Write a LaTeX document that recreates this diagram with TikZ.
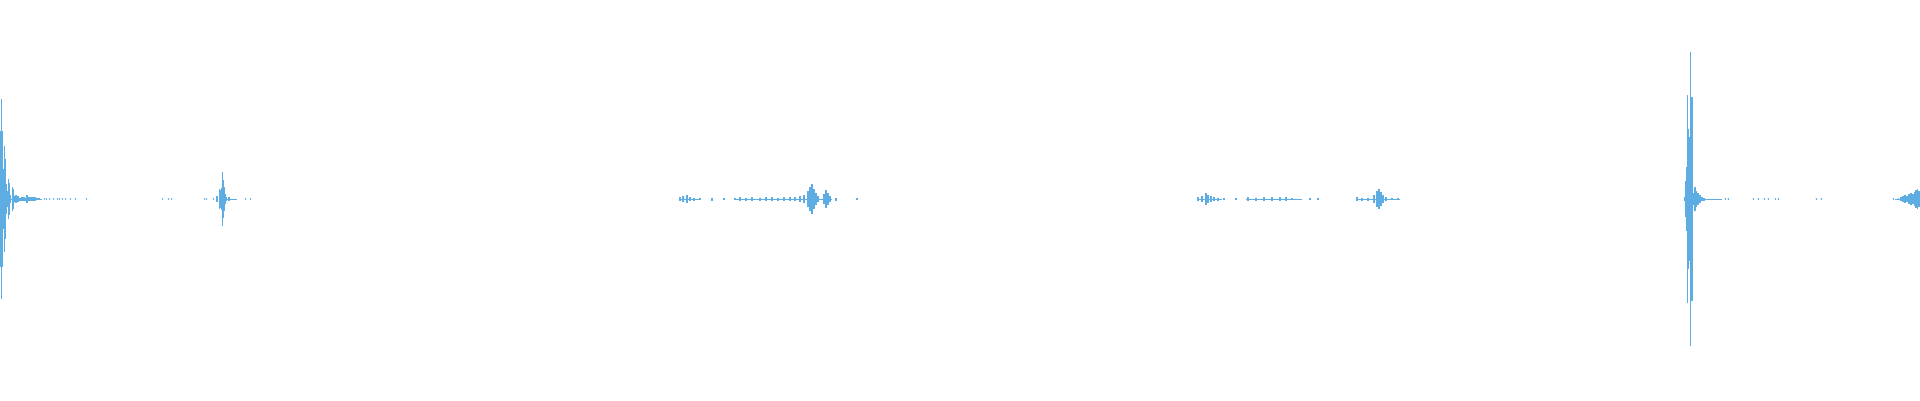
\documentclass[tikz,border=0pt]{standalone}
\definecolor{wave}{RGB}{93,173,226}
\begin{document}
\begin{tikzpicture}[x=1pt,y=-1pt,bar/.style={wave,line width=1.1pt}]
\useasboundingbox (0,0) rectangle (1920,400);
\def\c{199}
% burst 1
\foreach \x/\h in {0.6/68,1.6/100,2.6/68,3.6/30,4.6/53,5.6/40,6.6/15,7.6/8,8.6/20,9.6/16,10.6/4,12.6/12,13.6/10,15/3,16/4,17/2,18/3,20/1.5,22/2,24/2,26/1.5,27/4,28/2,30/2,32/2,34/2,35/2,37/1,39/1}
  \draw[bar] (\x,\c-\h) -- (\x,\c+\h);
\draw[bar,line width=1pt] (10,\c) -- (42,\c);
\foreach \x in {44,46,49,53,57,59,62,65,70,75,86,162,168,171,204,206,213}
  \draw[bar,line width=1pt] (\x,\c-0.6) -- (\x+1,\c+0.6);
% burst 2
\foreach \x/\h in {217/3,219.5/10,220.5/9,221.5/11,222.3/27,223.2/19,224/12,225/5,226/2,229/2}
  \draw[bar] (\x,\c-\h) -- (\x,\c+\h);
\draw[bar,line width=1pt] (224,\c) -- (237,\c);
\foreach \x in {245,250}
  \draw[bar,line width=1pt] (\x,\c-0.6) -- (\x+1,\c+0.6);
% region 3
\foreach \x/\h in {680/2,683/3,687/4,690/2,694/1.5,700/1,712/1.5,724/1,735/1,740/2,746/1.5,752/2,760/1.5,766/2,772/2,778/1.5,784/2,790/2,795/2,800/3,804/4,808/8,810/12,812/15,814/10,816/6,818/3,824/5,826/9,828/6,830/3,836/1.5,857/1}
  \draw[bar] (\x,\c-\h) -- (\x,\c+\h);
\draw[bar,line width=0.8pt] (680,\c) -- (700,\c);
\draw[bar,line width=0.8pt] (734,\c) -- (832,\c);
% region 4
\foreach \x/\h in {1198/2,1202/3,1206/6,1208/4,1211/3,1214/2,1218/1.5,1224/1,1236/1,1248/2,1256/1.5,1264/2,1272/2,1280/2,1286/2,1292/1,1310/1,1318/1,1357/2,1362/1.5,1368/1.5,1374/4,1377/8,1379/10,1381/7,1383/4,1386/2,1392/1,1398/1}
  \draw[bar] (\x,\c-\h) -- (\x,\c+\h);
\draw[bar,line width=0.8pt] (1198,\c) -- (1222,\c);
\draw[bar,line width=0.8pt] (1246,\c) -- (1302,\c);
\draw[bar,line width=0.8pt] (1356,\c) -- (1400,\c);
% burst 4
\foreach \x/\h in {1684.5/2,1685.5/18,1686.5/32,1687.3/104,1688.1/70,1689/62,1690.1/147,1691/48,1692/102,1692.8/54,1694/6,1695/12,1696.5/8,1698/6,1700/4,1702/2,1704/1.5}
  \draw[bar] (\x,\c-\h) -- (\x,\c+\h);
\draw[bar,line width=1pt] (1694,\c) -- (1722,\c);
\foreach \x in {1725,1728,1753,1758,1764,1768,1775,1778,1816,1821,1893,1898}
  \draw[bar,line width=1pt] (\x,\c-0.8) -- (\x+0.8,\c+0.8);
% final burst
\foreach \x/\h in {1901/2,1903/3,1905/4,1907/3,1909/5,1911/6,1913/5,1914.5/7,1916/9,1917.5/10,1919/8}
  \draw[bar] (\x,\c-\h) -- (\x,\c+\h);
\draw[bar,line width=1pt] (1895,\c) -- (1920,\c);
\end{tikzpicture}
\end{document}
